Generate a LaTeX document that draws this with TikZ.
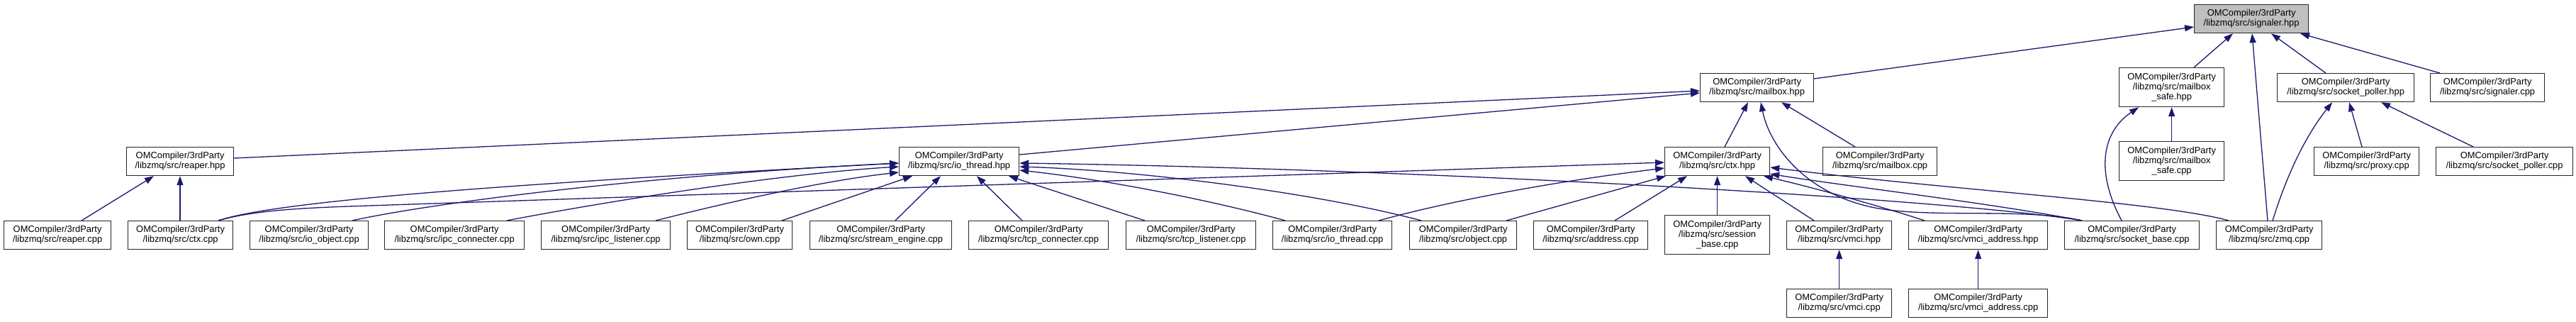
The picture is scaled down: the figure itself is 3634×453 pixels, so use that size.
\documentclass[tikz,border=0pt]{standalone}
\usepackage{fontspec}
\newfontfamily\dgfam{Liberation Sans}
\newcommand\dgfont{\dgfam\fontsize{12.9pt}{14pt}\selectfont}
\usetikzlibrary{arrows.meta,calc}
\definecolor{edgecol}{HTML}{191970}
\definecolor{curfill}{HTML}{BFBFBF}
\tikzset{
  box/.style={draw=black!85, line width=1.2pt, fill=white, align=center, inner sep=0pt,
    font=\dgfont, anchor=north west, minimum height=40pt},
  tall/.style={minimum height=55pt},
  edge/.style={draw=edgecol, line width=1.3pt, -{Triangle[length=13pt,width=9pt]}},
}
\begin{document}
\begin{tikzpicture}[x=1pt,y=-1pt]
\fill[white] (0,0) rectangle (3634,453);
\useasboundingbox (0,0) rectangle (3634,453);
% row 1
\node[box, fill=curfill, minimum width=161pt] (S) at (3095,6) {OMCompiler/3rdParty\\/libzmq/src/signaler.hpp};
% row 2
\node[box, minimum width=160pt] (M) at (2398,103) {OMCompiler/3rdParty\\/libzmq/src/mailbox.hpp};
\node[box, tall, minimum width=148pt] (MS) at (2989,95) {OMCompiler/3rdParty\\/libzmq/src/mailbox\\\_safe.hpp};
\node[box, minimum width=193pt] (SP) at (3212,103) {OMCompiler/3rdParty\\/libzmq/src/socket\_poller.hpp};
\node[box, minimum width=161pt] (SC) at (3428,103) {OMCompiler/3rdParty\\/libzmq/src/signaler.cpp};
% row 3
\node[box, minimum width=151pt] (RH) at (178,207) {OMCompiler/3rdParty\\/libzmq/src/reaper.hpp};
\node[box, minimum width=169pt] (IO) at (1268,207) {OMCompiler/3rdParty\\/libzmq/src/io\_thread.hpp};
\node[box, minimum width=148pt] (CH) at (2348,207) {OMCompiler/3rdParty\\/libzmq/src/ctx.hpp};
\node[box, minimum width=161pt] (MC) at (2571,207) {OMCompiler/3rdParty\\/libzmq/src/mailbox.cpp};
\node[box, tall, minimum width=148pt] (MSC) at (2989,199) {OMCompiler/3rdParty\\/libzmq/src/mailbox\\\_safe.cpp};
\node[box, minimum width=148pt] (PX) at (3264,207) {OMCompiler/3rdParty\\/libzmq/src/proxy.cpp};
\node[box, minimum width=193pt] (SPC) at (3436,207) {OMCompiler/3rdParty\\/libzmq/src/socket\_poller.cpp};
% row 4
\node[box, minimum width=151pt] (RC) at (5,311) {OMCompiler/3rdParty\\/libzmq/src/reaper.cpp};
\node[box, minimum width=148pt] (CC) at (180,311) {OMCompiler/3rdParty\\/libzmq/src/ctx.cpp};
\node[box, minimum width=167pt] (IOO) at (352,311) {OMCompiler/3rdParty\\/libzmq/src/io\_object.cpp};
\node[box, minimum width=197pt] (IPCC) at (542,311) {OMCompiler/3rdParty\\/libzmq/src/ipc\_connecter.cpp};
\node[box, minimum width=182pt] (IPCL) at (763,311) {OMCompiler/3rdParty\\/libzmq/src/ipc\_listener.cpp};
\node[box, minimum width=148pt] (OWN) at (969,311) {OMCompiler/3rdParty\\/libzmq/src/own.cpp};
\node[box, minimum width=200pt] (SE) at (1142,311) {OMCompiler/3rdParty\\/libzmq/src/stream\_engine.cpp};
\node[box, minimum width=197pt] (TCPC) at (1366,311) {OMCompiler/3rdParty\\/libzmq/src/tcp\_connecter.cpp};
\node[box, minimum width=183pt] (TCPL) at (1588,311) {OMCompiler/3rdParty\\/libzmq/src/tcp\_listener.cpp};
\node[box, minimum width=168pt] (IOC) at (1795,311) {OMCompiler/3rdParty\\/libzmq/src/io\_thread.cpp};
\node[box, minimum width=151pt] (OBJ) at (1988,311) {OMCompiler/3rdParty\\/libzmq/src/object.cpp};
\node[box, minimum width=161pt] (ADR) at (2163,311) {OMCompiler/3rdParty\\/libzmq/src/address.cpp};
\node[box, tall, minimum width=148pt] (SES) at (2348,303) {OMCompiler/3rdParty\\/libzmq/src/session\\\_base.cpp};
\node[box, minimum width=148pt] (VH) at (2520,311) {OMCompiler/3rdParty\\/libzmq/src/vmci.hpp};
\node[box, minimum width=196pt] (VAH) at (2692,311) {OMCompiler/3rdParty\\/libzmq/src/vmci\_address.hpp};
\node[box, minimum width=190pt] (SBC) at (2912,311) {OMCompiler/3rdParty\\/libzmq/src/socket\_base.cpp};
\node[box, minimum width=149pt] (ZMQ) at (3126,311) {OMCompiler/3rdParty\\/libzmq/src/zmq.cpp};
% row 5
\node[box, minimum width=148pt] (VC) at (2520,407) {OMCompiler/3rdParty\\/libzmq/src/vmci.cpp};
\node[box, minimum width=196pt] (VAC) at (2692,407) {OMCompiler/3rdParty\\/libzmq/src/vmci\_address.cpp};
% edges into signaler.hpp
\draw[edge] ($(M.north east)+(0,8)$) -- ($(S.north west)+(0,32)$);
\draw[edge] ($(MS.north west)+(106,0)$) -- ($(S.south west)+(55,0)$);
\draw[edge] ($(ZMQ.north west)+(73,0)$) -- ($(S.south west)+(82,0)$);
\draw[edge] ($(SP.north west)+(69,0)$) -- ($(S.south west)+(109,0)$);
\draw[edge] ($(SC.north west)+(14,0)$) -- ($(S.south west)+(150,0)$);
% edges into mailbox.hpp
\draw[edge] ($(RH.north east)+(0,16)$) -- ($(M.north west)+(0,25)$);
\draw[edge] ($(IO.north east)+(0,11)$) -- ($(M.north west)+(0,28)$);
\draw[edge] ($(CH.north west)+(85,0)$) -- ($(M.south west)+(68,0)$);
\draw[edge] ($(SBC.north west)+(25,0)$) .. controls (2850,292) and (2720,309) .. (2640,292)
   .. controls (2540,270) and (2495,200) .. ($(M.south west)+(86,0)$);
\draw[edge] ($(MC.north west)+(46,0)$) -- ($(M.south west)+(115,0)$);
% edges into reaper.hpp
\draw[edge] ($(RC.north west)+(110,0)$) -- ($(RH.south west)+(39,0)$);
\draw[edge] ($(CC.north west)+(74,0)$) -- ($(RH.south west)+(76,0)$);
% edges into io_thread.hpp
\draw[edge] ($(CC.north west)+(128,0)$) .. controls (400,280) and (800,255) .. ($(IO.north west)+(0,23)$);
\draw[edge] ($(IOO.north west)+(145,0)$) .. controls (600,288) and (900,248) .. ($(IO.north west)+(0,23)$);
\draw[edge] ($(IPCC.north west)+(173,0)$) .. controls (850,285) and (1100,245) .. ($(IO.north west)+(0,28)$);
\draw[edge] ($(IPCL.north west)+(162,0)$) .. controls (1000,292) and (1150,256) .. ($(IO.north west)+(0,36)$);
\draw[edge] ($(OWN.north west)+(134,0)$) -- ($(IO.south west)+(19,0)$);
\draw[edge] ($(SE.north west)+(121,0)$) -- ($(IO.south west)+(59,0)$);
\draw[edge] ($(TCPC.north west)+(76,0)$) -- ($(IO.south west)+(110,0)$);
\draw[edge] ($(TCPL.north west)+(27,0)$) -- ($(IO.south west)+(155,0)$);
\draw[edge] ($(IOC.north west)+(18,0)$) .. controls (1700,280) and (1550,252) .. ($(IO.north east)+(0,33)$);
\draw[edge] ($(OBJ.north west)+(17,0)$) .. controls (1850,270) and (1600,240) .. ($(IO.north east)+(0,28)$);
\draw[edge] ($(SBC.north west)+(25,0)$) .. controls (2750,280) and (2000,238) .. ($(IO.north east)+(0,23)$);
% edges into ctx.hpp
\draw[edge] ($(CC.north west)+(128,0)$) .. controls (360,296) and (430,293) .. (520,290) -- ($(CH.north west)+(0,22)$);
\draw[edge] ($(IOC.north west)+(150,0)$) .. controls (2050,282) and (2200,255) .. ($(CH.north west)+(0,30)$);
\draw[edge] ($(OBJ.north west)+(137,0)$) -- ($(CH.south west)+(2,0)$);
\draw[edge] ($(ADR.north west)+(115,0)$) -- ($(CH.south west)+(32,0)$);
\draw[edge] (SES.north) -- (CH.south);
\draw[edge] ($(VH.north west)+(39,0)$) -- ($(CH.south west)+(114,0)$);
\draw[edge] ($(VAH.north west)+(23,0)$) .. controls (2650,290) and (2560,265) .. ($(CH.south west)+(140,0)$);
\draw[edge] ($(SBC.north west)+(25,0)$) .. controls (2800,285) and (2600,262) .. ($(CH.south east)+(0,-3)$);
\draw[edge] ($(ZMQ.north west)+(18,0)$) .. controls (3050,285) and (2750,268) .. ($(CH.north east)+(0,29)$);
% edges into mailbox_safe.hpp
\draw[edge] ($(SBC.north west)+(81,0)$) .. controls (2960,250) and (2960,190) .. ($(MS.south west)+(28,0)$);
\draw[edge] (MSC.north) -- (MS.south);
% edges into socket_poller.hpp
\draw[edge] ($(ZMQ.north west)+(80,0)$) .. controls (3225,250) and (3250,195) .. ($(SP.south west)+(78,0)$);
\draw[edge] ($(PX.north west)+(68,0)$) -- ($(SP.south west)+(102,0)$);
\draw[edge] ($(SPC.north west)+(53,0)$) -- ($(SP.south west)+(147,0)$);
% vmci
\draw[edge] (VC.north) -- (VH.south);
\draw[edge] (VAC.north) -- (VAH.south);
\end{tikzpicture}
\end{document}
